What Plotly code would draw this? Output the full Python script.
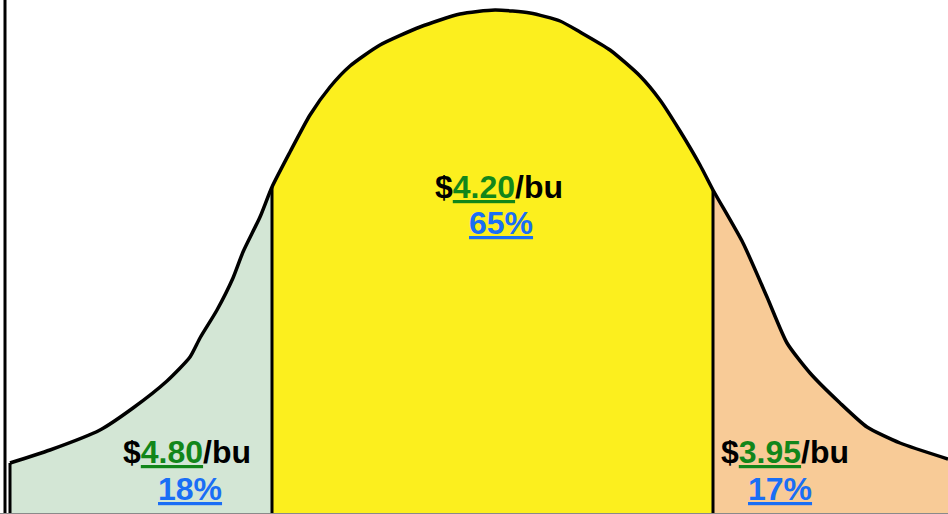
import plotly.graph_objects as go
import numpy as np

# Bell curve outline (x position, height above baseline)
curve_x = [10, 50, 100, 133, 167, 190, 200, 217, 233, 243, 260, 272, 290, 310, 330, 350, 380, 420,
           460, 495, 530, 560, 580, 610, 640, 660, 680, 700, 713, 743, 767, 787, 810, 840, 867, 900, 948]
curve_y = [51, 64, 84, 106, 133, 157, 176, 204, 236, 262, 297, 327, 362, 399, 427, 448, 469, 487,
           500, 504, 501, 493, 482, 464, 438, 414, 383, 349, 324, 271, 217, 171, 141, 111, 87, 71, 55]

# Region boundaries
cuts = [10, 272, 713, 948]
region_colors = ["#d3e6d5", "#fcef1e", "#f8cb97"]

# Labels
prices = ["4.80", "4.20", "3.95"]
shares = ["18%", "65%", "17%"]
price_pos_x = [187, 499, 785]
share_pos_x = [190, 501, 780]
price_pos_y = [62, 327, 62]
share_pos_y = [25, 291, 25]

cx = np.array(curve_x, dtype=float)
cy = np.array(curve_y, dtype=float)

fig = go.Figure()

for i in range(3):
    a, b = cuts[i], cuts[i + 1]
    mask = (cx >= a) & (cx <= b)
    xs = [a] + list(cx[mask]) + [b]
    ys = [0] + list(cy[mask]) + [0]
    fig.add_trace(go.Scatter(x=xs, y=ys, fill="toself", fillcolor=region_colors[i],
                             mode="lines", line=dict(width=0), hoverinfo="skip",
                             showlegend=False))

# outline of curve
fig.add_trace(go.Scatter(x=curve_x, y=curve_y, mode="lines",
                         line=dict(color="black", width=3.5, shape="spline", smoothing=0.6),
                         hoverinfo="skip", showlegend=False))

# vertical boundary lines
for c in cuts[:3]:
    h = float(np.interp(c, cx, cy))
    fig.add_trace(go.Scatter(x=[c, c], y=[0, h], mode="lines",
                             line=dict(color="black", width=3),
                             hoverinfo="skip", showlegend=False))

font = dict(family="Liberation Sans, Arial, sans-serif", size=32, color="black")
for i in range(3):
    fig.add_annotation(x=price_pos_x[i], y=price_pos_y[i], xref="x", yref="y",
                       text=f"<b>$<span style='color:#12861a'><u>{prices[i]}</u></span>/bu</b>",
                       showarrow=False, font=font, xanchor="center", yanchor="middle")
    fig.add_annotation(x=share_pos_x[i], y=share_pos_y[i], xref="x", yref="y",
                       text=f"<b><u>{shares[i]}</u></b>",
                       showarrow=False, font=dict(font, color="#1a6ef5"),
                       xanchor="center", yanchor="middle")

fig.add_shape(type="line", xref="x", yref="paper", x0=5, x1=5, y0=0, y1=1,
              line=dict(color="black", width=3))
fig.add_shape(type="line", xref="paper", yref="paper", x0=0, x1=1, y0=0, y1=0,
              line=dict(color="#8a8a8a", width=2))

fig.update_layout(
    width=948, height=514,
    margin=dict(l=0, r=0, t=0, b=0),
    paper_bgcolor="white", plot_bgcolor="white",
    xaxis=dict(range=[0, 948], visible=False, fixedrange=True),
    yaxis=dict(range=[0, 514], visible=False, fixedrange=True),
)

fig.write_html("out.html", config={"displayModeBar": False},
               post_script="document.body.style.margin='0';document.body.style.overflow='hidden';")
